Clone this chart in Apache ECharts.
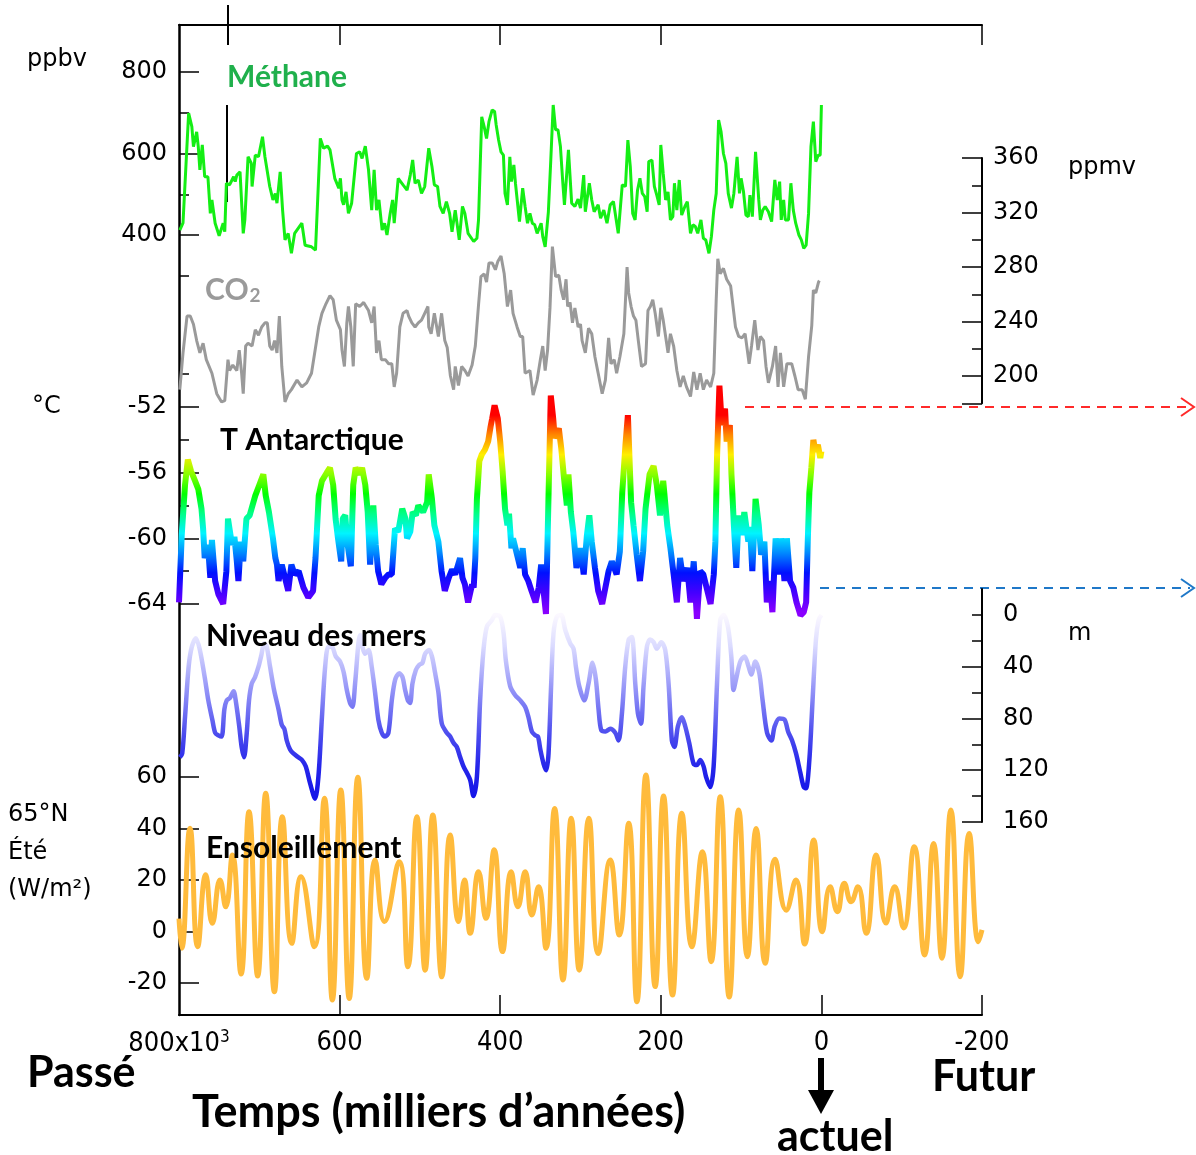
<!DOCTYPE html>
<html>
<head>
<meta charset="utf-8">
<script src="https://cdn.jsdelivr.net/npm/echarts@6/dist/echarts.min.js"></script>
<style>
  html, body { margin: 0; padding: 0; background: #ffffff; }
  #chart { width: 1196px; height: 1155px; }
</style>
</head>
<body>
<div id="chart"></div>
<script>
// Age axis: thousands of years before present (negative = future)
const ageTicks = [800, 600, 400, 200, 0, -200];
const ch4Ticks = [400, 600, 800];
const co2Ticks = [200, 240, 280, 320, 360];
const tempTicks = [-52, -56, -60, -64];
const seaTicks = [0, 40, 80, 120, 160];
const insolTicks = [60, 40, 20, 0, -20];

// Methane (ppbv) : [age kyr, value]
const methane = [
  [799,412],[795,430],[788,699],[784,666],[782,617],[778,653],[776,617],[774,560],[771,621],[768,543],
  [764,543],[761,453],[759,486],[755,429],[750,398],[745,429],[743,408],[741,527],[737,523],[732,543],
  [730,531],[728,547],[724,555],[720,404],[718,437],[714,592],[710,576],[709,519],[705,596],[701,592],
  [696,641],[693,592],[687,519],[683,486],[680,502],[678,478],[674,555],[671,461],[668,388],[664,404],
  [660,355],[656,404],[647,429],[643,375],[635,371],[630,363],[624,637],[620,613],[615,618],[612,609],
  [606,539],[601,515],[599,539],[597,486],[595,474],[592,506],[589,453],[585,478],[579,600],[575,604],
  [572,588],[568,618],[564,560],[560,461],[557,560],[554,461],[551,486],[547,412],[544,429],[541,400],
  [537,453],[534,486],[532,429],[527,539],[521,523],[516,510],[512,547],[509,584],[506,527],[502,535],
  [498,502],[494,519],[489,613],[485,568],[482,523],[478,519],[475,470],[471,453],[467,482],[463,453],
  [460,408],[456,461],[451,388],[447,470],[444,453],[440,404],[433,384],[429,392],[427,437],[423,690],
  [420,666],[417,637],[414,678],[410,707],[407,703],[405,670],[402,633],[399,604],[396,596],[394,502],
  [391,474],[388,592],[386,531],[383,572],[381,527],[376,433],[372,515],[369,470],[366,429],[363,453],
  [360,429],[357,425],[354,404],[349,429],[347,396],[344,371],[340,457],[337,584],[334,719],[331,658],
  [328,658],[325,617],[322,527],[320,474],[315,609],[311,478],[307,470],[303,488],[300,466],[298,506],
  [296,547],[294,457],[289,527],[286,486],[283,457],[278,474],[275,441],[271,461],[267,429],[263,474],
  [259,482],[253,404],[248,523],[244,519],[241,633],[238,568],[235,453],[232,437],[229,510],[226,539],
  [223,502],[220,494],[217,457],[215,580],[211,584],[208,519],[205,498],[202,474],[200,621],[197,551],
  [194,486],[191,506],[188,437],[185,445],[183,527],[180,461],[177,535],[174,449],[170,470],[167,482],
  [163,404],[160,425],[157,421],[154,404],[150,437],[147,392],[144,388],[140,355],[137,396],[134,461],
  [131,502],[128,682],[125,654],[122,600],[119,576],[116,502],[112,466],[109,502],[105,592],[102,502],
  [100,539],[97,506],[94,449],[91,445],[89,498],[86,445],[82,604],[78,486],[76,437],[73,461],
  [70,470],[66,457],[62,433],[58,535],[55,486],[52,531],[50,437],[47,486],[45,437],[41,437],
  [38,527],[35,461],[32,429],[28,400],[25,388],[22,367],[19,375],[16,453],[13,617],[10,678],
  [7,580],[4,596],[1.5,596],[0,719]
];

// CO2 (ppmv)
const co2 = [
  [799,190],[795,217],[790,244],[786,244],[782,238],[778,226],[774,217],[770,224],[766,212],[759,202],
  [753,187],[747,181],[743,182],[739,212],[737,204],[733,208],[728,204],[725,219],[722,202],[720,187],
  [717,222],[714,224],[709,222],[705,234],[701,230],[697,236],[693,239],[690,239],[687,222],[684,219],
  [681,226],[678,217],[675,244],[672,207],[668,181],[664,187],[660,190],[653,197],[647,192],[641,195],
  [635,202],[631,217],[626,236],[622,246],[617,253],[612,259],[608,256],[604,241],[599,234],[597,219],
  [594,207],[591,239],[589,251],[586,236],[583,207],[580,253],[575,251],[570,254],[568,252],[564,248],
  [560,239],[557,251],[554,217],[551,226],[548,212],[543,212],[539,209],[535,209],[532,192],[529,202],
  [525,236],[521,246],[516,248],[514,244],[510,239],[506,236],[502,239],[498,241],[494,246],[490,251],
  [489,236],[486,231],[482,246],[477,229],[473,246],[469,226],[466,221],[462,200],[458,190],[456,207],
  [452,193],[448,207],[444,204],[440,200],[435,208],[431,222],[427,252],[424,273],[420,275],[417,269],
  [414,283],[410,283],[406,278],[403,284],[399,288],[395,275],[391,251],[387,263],[384,246],[379,236],
  [375,229],[372,229],[369,202],[363,204],[359,186],[354,197],[350,212],[347,222],[344,204],[341,219],
  [338,250],[335,295],[333,296],[331,273],[327,274],[324,263],[321,256],[318,271],[316,251],[313,254],
  [310,239],[307,250],[303,236],[300,238],[298,226],[294,217],[290,235],[286,231],[282,214],[278,202],
  [273,187],[269,197],[265,228],[262,209],[258,212],[255,202],[251,214],[246,231],[242,280],[240,261],
  [237,251],[234,244],[231,241],[228,226],[224,207],[219,209],[216,248],[213,251],[210,256],[207,246],
  [203,229],[200,250],[197,241],[194,229],[191,217],[188,231],[184,222],[180,204],[176,192],[172,200],
  [168,192],[163,185],[159,203],[155,190],[151,202],[147,190],[143,197],[138,192],[134,202],[131,256],
  [129,286],[126,275],[122,279],[118,271],[113,266],[111,256],[107,236],[103,229],[99,228],[95,231],
  [90,209],[87,222],[83,241],[79,219],[76,229],[72,226],[69,207],[66,195],[61,207],[57,222],
  [54,192],[51,217],[47,192],[43,209],[37,209],[33,200],[29,190],[24,190],[20,183],[16,214],
  [12,237],[10,263],[7,261],[3.5,269],[2.5,270]
];

// Antarctic temperature (°C)
const temperature = [
  [800,-63.9],[796.6,-59.8],[792.5,-56.75],[789,-55.2],[785,-55.9],[780,-56.5],[776,-57],[772,-58.2],[770,-59.4],[768,-61.2],
  [764,-60.4],[761,-62.4],[759,-60.1],[755,-62.6],[751,-63.4],[745,-64],[741,-62],[739,-58.8],[734,-60.4],[731,-59.9],
  [728,-61.4],[726,-62.6],[723,-60.2],[720,-61.4],[716,-58.8],[712,-58.6],[705,-57.4],[700,-56.75],[695,-56.1],[692,-57.4],
  [688,-58.4],[683,-60],[680,-61.2],[678,-61.6],[676,-62.6],[672,-61.6],[667,-62.6],[664,-63.2],[660,-61.6],[656,-62.2],
  [651,-62],[645,-63],[639,-63.6],[633,-63.2],[630,-61.2],[626,-57.4],[622,-56.5],[616,-56],[612,-55.7],[608,-56.75],
  [605,-58.8],[602,-60],[598,-61.4],[596,-58.8],[593,-58.6],[590,-60.4],[586,-61.7],[583,-56.75],[580,-55.7],[575,-56.1],
  [572,-55.7],[568,-56.75],[565,-58.4],[562,-61.6],[558,-58],[555,-60.4],[552,-62],[548,-62.8],[543,-62.4],[539,-62.2],
  [535,-62.2],[531,-59.4],[527,-59.6],[522,-58.2],[518,-58.8],[516,-60],[512,-59.6],[509,-58.4],[505,-58.6],[502,-58],
  [496,-58.4],[491,-57.8],[489,-56.1],[485,-57.6],[482,-59.2],[477,-60.2],[473,-62],[469,-63.2],[464,-62.4],[460,-61.9],
  [456,-62.2],[450,-61.2],[447,-62.4],[444,-62.8],[440,-63.9],[435,-62.8],[433,-63],[431,-61.2],[429,-57.6],[426,-55.3],
  [423,-54.9],[419,-54.6],[415,-54.1],[412,-53.2],[410,-52.7],[407,-51.9],[403,-52.7],[400,-54.1],[397,-55.9],[394,-58.2],
  [391,-59.2],[389,-58.5],[386,-60.6],[384,-60],[379,-61],[375,-61.8],[372,-60.6],[369,-62.2],[365,-62.6],[361,-63.2],
  [356,-63.9],[352,-63],[349,-61.6],[346,-63.2],[343,-64.6],[340,-57.8],[337,-51.3],[334,-52.7],[332,-53.9],[327,-53.3],
  [324,-54.5],[321,-56.1],[317,-58],[315,-56.1],[312,-58.4],[309,-59.6],[305,-61.8],[300,-60.6],[296,-62.2],[292,-59.8],
  [289,-58.6],[286,-60.2],[282,-61.8],[278,-63.2],[273,-64],[269,-63],[265,-62],[261,-61.4],[255,-62.2],[251,-60.8],
  [248,-57.2],[244,-54.3],[241,-52.5],[239,-55.1],[237,-57.8],[234,-59.2],[230,-61],[226,-62.6],[222,-60.8],[219,-58.2],
  [214,-56.1],[209,-55.6],[205,-56.75],[201,-58.6],[197,-56.5],[192,-59.2],[188,-60.6],[184,-62.2],[180,-63.9],[176,-61.2],
  [172,-62.6],[167,-61.8],[163,-63.9],[159,-61.4],[155,-64.9],[151,-62],[147,-62.2],[143,-63],[138,-64],[134,-62.2],
  [132,-60.2],[130,-55.1],[127,-50.7],[124,-53.1],[120,-52.1],[118,-54.1],[114,-53.1],[112,-56.1],[109,-59.2],[106,-61.8],
  [103,-58.6],[99,-59.8],[96,-58.4],[91,-60.2],[89,-59.3],[86,-62],[82,-57.6],[78,-59.2],[75,-61],[71,-60.2],
  [68,-63.9],[64,-62.6],[61,-64.5],[57,-60],[53,-62.2],[50,-60],[46,-62.6],[43,-60],[39,-62.6],[35,-63],
  [31,-63.9],[26,-64.7],[22,-64.5],[19,-63.9],[17,-60.2],[15,-57.2],[12.5,-55.7],[10,-54],[7.5,-54.7],[4.4,-54.3],
  [1.4,-55.1],[0,-54.7]
];

// Sea level (m below present)
const seaLevel = [
  [799,110],[796,107],[792.5,79],[788,40],[784,24.5],[779,18],[774,27],[768,48],[763.5,66],[758.5,81],
  [755,91],[751,93],[747,94],[743.5,73],[740.6,66],[736.5,64],[732,59],[729.4,66],[725,86],[722,102],
  [719,110],[715.6,91],[712.8,66],[709.4,53],[705.3,48],[701,40],[697.8,32],[693.7,22],[690.7,24.5],[686.6,40],
  [681.6,58],[676,73],[672,85],[668.8,88],[665.8,97],[661.7,104],[657.6,107],[651.4,110],[647,112],[642.2,117],
  [636.8,130],[630.6,142],[626.4,125],[622,79],[618,40],[614,24.5],[609.7,24.5],[604.8,32],[599.4,36],[595,44],
  [591,58],[587,68],[584,71],[580.7,53],[576.6,22],[574.5,15.5],[571.6,24.5],[568.2,30],[564,27],[560,40],
  [555.8,60],[551.7,81],[547.5,91],[543.4,94],[539.2,91],[535,66],[530.8,50],[525.8,45],[521.7,48],[518.4,58],
  [515,66],[512.2,68],[509.3,53],[505,42.5],[501,38.6],[496.8,37],[493.5,30],[488.5,27],[485,32],[481,45],
  [476.9,60],[472.7,84],[466.5,91],[462.3,94],[458,99],[454,102],[449.8,110],[445.7,117],[441.5,122],[437.4,127.5],
  [433.3,140],[429,125],[425,66],[420.8,27],[416.6,9],[410.4,4],[406.3,0],[400,1.3],[395.8,14],[393,35],
  [387.6,55],[381.3,62],[375,66],[369,71],[364.8,79],[360.6,90],[356.4,93],[353,94],[350,104],[346,115],
  [342.7,120],[339.8,107],[336.5,53],[333.6,14],[329.4,1.3],[324,0],[319,11.6],[312.8,22],[308.7,26],[305.7,40],
  [301.6,55],[295.3,66],[290,53],[285,37],[280.8,50],[277.5,73],[274.2,89],[269,90],[263,88],[256.7,91],
  [252.6,97],[248.4,76],[244.3,40],[240,19],[236,17],[231.8,53],[228.5,76],[224.7,84],[221.5,55],[217.3,24.5],
  [213.2,19],[209,21],[205,26],[199.5,21],[194.5,27],[190.3,53],[186.2,97],[183,102],[178.7,86],[173.8,79],
  [169.6,86],[164.6,99],[159.2,115],[155,116],[150.8,112],[146.7,117],[143.7,125],[138.4,133],[134.2,117],[130,53],
  [126,4],[121.8,0],[116.4,9],[112.2,32],[109.4,58],[106.4,50],[101,36],[95.7,32],[90.6,40],[87.3,46],
  [82.3,36],[77.3,45],[73.2,66],[67.7,91],[62.3,97],[58.2,86],[52.4,80],[45.8,81],[41.5,90],[36.5,97],
  [31.6,107],[26.2,122],[22,133],[19.2,134],[15,112],[11,66],[6.8,19],[3.5,4],[0,0]
];

// 65°N summer insolation anomaly (W/m²), turning points of the curve
const insolation = [
  [800,5],[796.6,-6.5],[786.3,40.1],[776.7,-5.9],[766.7,22],[758.5,3.2],[748.9,20],[741.8,9.6],[733.5,29.7],[722.7,-16.5],
  [712.8,46.5],[702,-17.3],[692,53.7],[681.2,-23.4],[671.3,44.6],[659.6,-4.6],[648,21.3],[631.4,-5.9],[618.9,51.7],[609,-26.6],
  [598.5,55],[588,-26],[577.3,59.9],[566.1,-18.2],[555.8,27.8],[544.1,3.9],[525.8,27.1],[515,-13.7],[503.8,44.6],[493.5,-15],
  [483.9,45.2],[472.7,-17.6],[462.3,37.5],[451.9,3.9],[444.5,20],[437.4,-0.7],[427,23.2],[417.8,5.1],[407.5,31.7],[397.1,-7.8],
  [386.3,23.2],[378,9.6],[368.9,23.2],[360.6,6.4],[352.3,17.4],[343,-6.5],[332.3,47.8],[321.8,-18.8],[311.5,44],[301.5,-15],
  [289.6,44],[278,-8.5],[262.9,27.8],[251.7,-1.4],[240,42],[229.8,-27.3],[218.5,60.8],[207,-21.4],[196.6,52.6],[185.4,-24.7],
  [173.8,45.9],[161.3,-5.9],[148.2,31],[137.3,-11.7],[126,52.3],[114.8,-25.4],[103,47.2],[92.2,-9.8],[81.3,40],[70,-12.3],
  [57.6,28.1],[43.8,8.3],[31.8,20],[20.9,-4.9],[9.6,35.5],[-1.1,-0.1],[-10.9,17.4],[-19.9,7.7],[-28.5,18.7],[-37,11.6],
  [-45.4,17.4],[-55.8,-0.7],[-68.3,29.7],[-80.4,3.3],[-91.2,17.4],[-102.3,1.4],[-115.6,32.9],[-128.5,-9.1],[-139.7,34.2],[-150.1,-10.4],
  [-161.2,47.2],[-172.8,-17.6],[-184,38.1],[-195.6,-4],[-200,0.6]
];

const AXIS_FONT = 'DejaVu Sans';
const NARROW_FONT = '"DejaVu Sans Condensed", "Liberation Sans", sans-serif';
const TITLE_FONT = 'Lato';
const LEFT = 179, RIGHT = 214;

function panelGrid(top, height) {
  return { left: LEFT, right: RIGHT, top: top, height: height, containLabel: false };
}
function hiddenX(gridIndex) {
  return { type: 'value', gridIndex: gridIndex, min: -200, max: 800, inverse: true, show: false };
}
function valueAxis(o) {
  const base = {
    type: 'value', splitLine: { show: false },
    axisLine: { show: false, onZero: false },
    axisLabel: { show: false }, axisTick: { show: false }
  };
  const merged = Object.assign(base, o);
  merged.axisLine = Object.assign({ onZero: false }, merged.axisLine);
  return merged;
}
function ticks(values, length) {
  return { show: true, inside: true, length: length, customValues: values, lineStyle: { color: '#000', width: 1.5 } };
}
function labels(values, margin) {
  return { show: true, customValues: values, margin: margin, fontFamily: AXIS_FONT, fontSize: 24, color: '#000' };
}

const chart = echarts.init(document.getElementById('chart'), null, { renderer: 'canvas' });

const option = {
  animation: false,
  backgroundColor: '#ffffff',
  grid: [
    panelGrid(25, 990),        // frame
    panelGrid(72, 203.75),     // methane 300..800
    panelGrid(158, 245.25),    // CO2 180..360
    panelGrid(374.2, 229.8),   // temperature -50..-64
    panelGrid(589.1, 232.9),   // sea level -20..160
    panelGrid(777, 206)        // insolation -20..60
  ],
  xAxis: [
    {
      type: 'value', gridIndex: 0, min: -200, max: 800, inverse: true, position: 'bottom',
      splitLine: { show: false },
      axisLine: { show: true, onZero: false, lineStyle: { color: '#000', width: 2 } },
      axisTick: ticks([600, 400, 200, 0, -200], 20),
      axisLabel: {
        customValues: ageTicks, margin: 14, color: '#000',
        fontFamily: NARROW_FONT, fontSize: 27,
        formatter: function (v) { return v === 800 ? '800x10{sup|3}' : String(v); },
        rich: { sup: { fontFamily: NARROW_FONT, fontSize: 17, verticalAlign: 'top', color: '#000', padding: [0, 0, 12, 0] } }
      }
    },
    {
      type: 'value', gridIndex: 0, min: -200, max: 800, inverse: true, position: 'top',
      splitLine: { show: false },
      axisLine: { show: true, onZero: false, lineStyle: { color: '#000', width: 2 } },
      axisTick: ticks([600, 400, 200, -200], 20),
      axisLabel: { show: false }
    },
    hiddenX(1), hiddenX(2), hiddenX(3), hiddenX(4), hiddenX(5)
  ],
  yAxis: [
    valueAxis({ gridIndex: 0, min: 0, max: 1, position: 'left', axisLine: { show: true, lineStyle: { color: '#000', width: 2.5 } } }),
    // methane
    valueAxis({ gridIndex: 1, min: 300, max: 800, position: 'left', axisTick: ticks([400, 600, 800], 20), axisLabel: labels(ch4Ticks, 12) }),
    valueAxis({ gridIndex: 1, min: 300, max: 800, position: 'left', axisTick: ticks([300, 500, 700], 10) }),
    // CO2
    valueAxis({ gridIndex: 2, min: 180, max: 360, position: 'right',
      axisLine: { show: true, lineStyle: { color: '#000', width: 2 } },
      axisTick: ticks([180, 200, 240, 280, 320, 360], 20), axisLabel: labels(co2Ticks, 11) }),
    valueAxis({ gridIndex: 2, min: 180, max: 360, position: 'right', axisTick: ticks([220, 260, 300, 340], 10) }),
    // temperature
    valueAxis({ gridIndex: 3, min: -64, max: -50, position: 'left', axisTick: ticks([-52, -56, -60, -64], 20), axisLabel: labels(tempTicks, 12) }),
    valueAxis({ gridIndex: 3, min: -64, max: -50, position: 'left', axisTick: ticks([-50, -54, -58, -62], 10) }),
    // sea level
    valueAxis({ gridIndex: 4, min: -20, max: 160, inverse: true, position: 'right',
      axisLine: { show: true, lineStyle: { color: '#000', width: 2 } },
      axisTick: ticks([40, 80, 120, 160], 20), axisLabel: labels(seaTicks, 21) }),
    valueAxis({ gridIndex: 4, min: -20, max: 160, inverse: true, position: 'right', axisTick: ticks([0, 20, 60, 100, 140], 10) }),
    // insolation
    valueAxis({ gridIndex: 5, min: -20, max: 60, position: 'left', axisTick: ticks(insolTicks, 20), axisLabel: labels(insolTicks, 12) })
  ],
  visualMap: [
    {
      type: 'continuous', show: false, seriesIndex: 2, dimension: 1, min: -64.5, max: -52.5,
      inRange: { color: ['#8a00ff', '#4400ff', '#0010ff', '#0088ff', '#00f4ff', '#00ff88', '#00ff00', '#88ff00', '#ffee00', '#ff8800', '#ff0000'] }
    },
    {
      type: 'continuous', show: false, seriesIndex: 3, dimension: 1, min: 0, max: 140,
      inRange: { color: ['#fbf8ff', '#dcdcff', '#acacfa', '#7a7af4', '#4a4aee', '#2626ea', '#1414e8'] }
    }
  ],
  series: [
    { name: 'Méthane', type: 'line', xAxisIndex: 2, yAxisIndex: 1, data: methane, showSymbol: false, clip: false,
      lineStyle: { color: '#14ee14', width: 3 }, itemStyle: { color: '#14ee14' } },
    { name: 'CO2', type: 'line', xAxisIndex: 3, yAxisIndex: 3, data: co2, showSymbol: false, clip: false,
      lineStyle: { color: '#9a9a9a', width: 3 }, itemStyle: { color: '#9a9a9a' } },
    { name: 'T Antarctique', type: 'line', xAxisIndex: 4, yAxisIndex: 5, data: temperature, showSymbol: false, clip: false,
      lineStyle: { width: 6 } },
    { name: 'Niveau des mers', type: 'line', xAxisIndex: 5, yAxisIndex: 7, data: seaLevel, showSymbol: false, clip: false,
      smooth: 0.3, lineStyle: { width: 4.5 } },
    { name: 'Ensoleillement', type: 'line', xAxisIndex: 6, yAxisIndex: 9, data: insolation, showSymbol: false, clip: false,
      smooth: 0.5, lineStyle: { color: '#ffbb3c', width: 5 }, itemStyle: { color: '#ffbb3c' } }
  ],
  graphic: []
};

function txt(text, x, y, font, fill, extra) {
  return {
    type: 'text', silent: true, z: 10,
    style: Object.assign({
      text: text, x: x, y: y, font: font, fill: fill,
      textAlign: 'left', align: 'left', textVerticalAlign: 'middle', verticalAlign: 'middle'
    }, extra || {})
  };
}
const unitFont = '24px "' + AXIS_FONT + '"';
const seriesFont = 'bold 30px ' + TITLE_FONT;
const bigFont = 'bold 43px ' + TITLE_FONT;

option.graphic = [
  // unit captions
  txt('ppbv', 27, 60, unitFont, '#000'),
  txt('°C', 32, 407, unitFont, '#000'),
  txt('65°N', 8, 815, unitFont, '#000'),
  txt('Été', 8, 853, unitFont, '#000'),
  txt('(W/m²)', 8, 890, unitFont, '#000'),
  txt('ppmv', 1068, 168, unitFont, '#000'),
  txt('m', 1068, 634, unitFont, '#000'),
  // series captions
  txt('Méthane', 227, 77, seriesFont, '#20b04c'),
  txt('CO{s|2}', 205, 290, seriesFont, '#9a9a9a', {
    rich: { s: { font: 'bold 19px ' + TITLE_FONT, fill: '#9a9a9a', verticalAlign: 'bottom', padding: [12, 0, 0, 1] } }
  }),
  txt('T Antarctique', 220, 440, seriesFont, '#000'),
  txt('Niveau des mers', 206, 636, seriesFont, '#000'),
  txt('Ensoleillement', 206, 848, seriesFont, '#000'),
  // time annotations
  txt('Passé', 27, 1073, bigFont, '#000'),
  txt('Futur', 932, 1077, bigFont, '#000'),
  txt('Temps (milliers d\u2019années)', 192, 1112, 'bold 45px ' + TITLE_FONT, '#000'),
  txt('actuel', 777, 1137, bigFont, '#000'),
  // present-day arrow
  { type: 'rect', silent: true, shape: { x: 818, y: 1058, width: 6, height: 36 }, style: { fill: '#000' } },
  { type: 'polygon', silent: true, shape: { points: [[808, 1090], [834, 1090], [821, 1114]] }, style: { fill: '#000' } },
  // warm / cold reference levels
  { type: 'line', silent: true, shape: { x1: 745, y1: 407, x2: 1190, y2: 407 }, style: { stroke: '#ff2a2a', lineWidth: 2, lineDash: [9, 7] } },
  { type: 'polyline', silent: true, shape: { points: [[1181, 398], [1194, 407], [1181, 416]] }, style: { stroke: '#ff2a2a', lineWidth: 2, fill: null } },
  { type: 'line', silent: true, shape: { x1: 820, y1: 588, x2: 1190, y2: 588 }, style: { stroke: '#1f78c8', lineWidth: 2, lineDash: [9, 7] } },
  { type: 'polyline', silent: true, shape: { points: [[1181, 579], [1194, 588], [1181, 597]] }, style: { stroke: '#1f78c8', lineWidth: 2, fill: null } },
  // stray tick marks near the top-left
  { type: 'line', silent: true, shape: { x1: 228, y1: 5, x2: 228, y2: 45 }, style: { stroke: '#000', lineWidth: 2 } },
  { type: 'line', silent: true, shape: { x1: 227, y1: 105, x2: 227, y2: 202 }, style: { stroke: '#000', lineWidth: 2 } }
];

chart.setOption(option);
</script>
</body>
</html>
